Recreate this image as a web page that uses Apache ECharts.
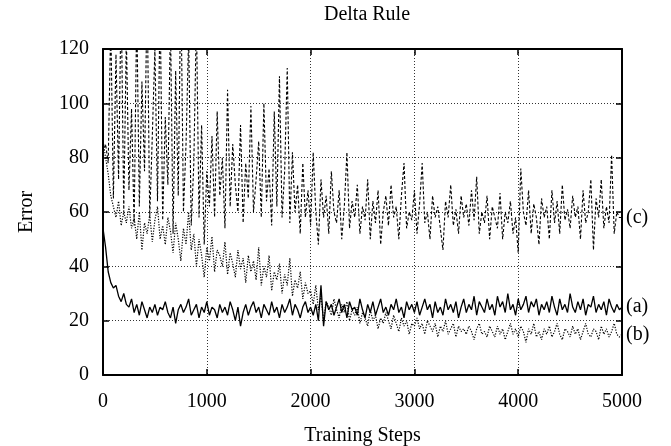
<!DOCTYPE html>
<html>
<head>
<meta charset="utf-8">
<script src="https://cdn.jsdelivr.net/npm/echarts@6/dist/echarts.min.js"></script>
<style>
  html, body { margin: 0; padding: 0; background: #fff; }
  #chart { width: 671px; height: 446px; }
</style>
</head>
<body>
<div id="chart"></div>
<script>
// sampled every 25 training steps, 0..5000
const STEP = 25;
const xTicks = [0, 1000, 2000, 3000, 4000, 5000];
const yTicks = [0, 20, 40, 60, 80, 100, 120];

// (a) solid
const errA = [
    54,47,38,34,32,33,29,27,30,26,
    25,28,23,26,22,27,24,21,25,23,
    26,22,25,24,27,23,21,25,19,24,
    26,23,25,28,22,24,26,21,25,23,
    27,22,25,24,21,26,23,25,22,27,
    24,20,25,18,23,26,22,25,27,23,
    25,21,26,24,22,27,23,25,21,26,
    23,25,28,22,26,24,21,25,27,23,
    25,22,26,20,33,18,27,24,26,22,
    25,28,23,26,21,27,24,25,22,28,
    24,21,26,23,27,22,25,28,23,25,
    22,26,24,28,23,25,21,27,24,26,
    23,27,22,25,28,24,26,21,27,23,
    25,22,28,24,26,23,27,21,25,28,
    23,26,24,29,22,27,25,23,28,24,
    26,22,29,25,27,23,30,24,26,22,
    28,24,26,29,23,27,25,28,22,26,
    24,27,23,29,25,22,28,24,26,23,
    30,25,23,27,24,28,22,26,25,29,
    23,26,24,27,22,28,25,23,26,24,
    25
];

// (b) dotted
const errB = [
    86,80,74,66,62,58,64,55,60,56,
    62,54,58,50,60,46,56,52,59,49,
    57,62,50,55,48,58,53,45,56,50,
    42,54,48,60,46,52,40,50,44,36,
    47,42,51,38,46,44,40,49,37,45,
    41,36,46,39,43,34,44,38,42,35,
    47,33,40,36,44,31,38,35,41,30,
    37,33,43,29,35,32,38,28,34,30,
    31,26,33,24,29,20,27,25,22,28,
    24,21,26,23,27,20,24,22,25,19,
    23,21,18,24,20,22,17,21,19,23,
    20,17,22,19,16,21,18,20,15,19,
    18,21,17,19,15,20,18,16,19,14,
    18,16,20,15,17,19,14,18,16,17,
    15,18,16,13,17,19,15,16,14,18,
    16,14,18,15,17,13,16,19,15,17,
    14,18,16,12,17,15,19,14,16,13,
    17,15,18,14,16,19,15,13,17,16,
    14,18,15,17,13,16,19,15,14,17,
    16,13,18,15,17,14,16,19,15,14,
    15
];

// (c) dashed
const errC = [
    82,85,78,130,65,118,72,140,60,125,
    68,98,55,135,62,108,75,142,58,88,
    120,64,138,57,95,70,130,52,112,66,
    145,60,85,125,55,78,132,58,92,48,
    75,62,88,58,97,66,80,54,105,62,
    85,70,60,92,56,78,65,99,60,72,
    86,58,100,64,76,55,97,62,110,58,
    75,113,56,82,60,70,52,78,58,68,
    55,82,60,48,72,58,66,52,75,60,
    56,68,50,62,82,54,64,58,70,52,
    62,57,72,50,64,56,68,48,60,66,
    55,70,58,62,50,66,78,54,60,57,
    68,52,63,78,56,60,50,66,58,62,
    54,46,64,58,70,55,61,52,66,58,
    63,55,68,57,73,52,60,56,66,50,
    62,58,54,67,50,60,56,64,52,58,
    45,76,60,55,68,52,63,58,48,65,
    58,62,50,68,56,64,52,70,57,61,
    54,66,58,62,50,68,56,60,72,46,
    65,58,72,54,62,56,81,52,60,58,
    58
];

const FONT = '"Liberation Serif", "Times New Roman", serif';

const toPairs = (vals) => vals.map((v, i) => [i * STEP, v]);

function makeSeries(name, vals, dash, width) {
    return {
        name: name,
        type: 'line',
        data: toPairs(vals),
        showSymbol: false,
        symbol: 'none',
        clip: true,
        lineStyle: { color: '#000', width: width, type: dash },
        endLabel: {
            show: true,
            formatter: name,
            distance: 4,
            color: '#000',
            fontFamily: FONT,
            fontSize: 20
        },
        z: 3
    };
}

const chart = echarts.init(document.getElementById('chart'));

const axisBase = {
    type: 'value',
    axisLine: { show: true, onZero: false, lineStyle: { color: '#000', width: 2 } },
    axisTick: { show: true, inside: true, length: 6, lineStyle: { color: '#000', width: 1.5 } }
};

const plain = (v) => String(v);

chart.setOption({
    animation: false,
    backgroundColor: '#fff',
    title: {
        text: 'Delta Rule',
        left: 362,
        textAlign: 'center',
        top: 0,
        textStyle: { fontFamily: FONT, fontSize: 20, fontWeight: 'normal', color: '#000' }
    },
    grid: { left: 103, right: 49, top: 49, bottom: 71, outerBoundsMode: 'none', containLabel: false },
    xAxis: [
        Object.assign({}, axisBase, {
            min: 0, max: 5000, interval: 1000,
            position: 'bottom',
            name: 'Training Steps',
            nameLocation: 'middle',
            nameGap: 51,
            nameTextStyle: { fontFamily: FONT, fontSize: 20, color: '#000' },
            axisLabel: {
                margin: 17, fontFamily: FONT, fontSize: 20, color: '#000',
                customValues: xTicks, formatter: plain
            },
            splitLine: { show: true, lineStyle: { color: '#333', type: [1, 2], width: 1 } }
        }),
        Object.assign({}, axisBase, {
            min: 0, max: 5000, interval: 1000,
            position: 'top',
            axisLabel: { show: false },
            splitLine: { show: false }
        })
    ],
    yAxis: [
        Object.assign({}, axisBase, {
            min: 0, max: 120, interval: 20,
            position: 'left',
            name: 'Error',
            nameLocation: 'middle',
            nameGap: 66,
            nameRotate: 90,
            nameTextStyle: { fontFamily: FONT, fontSize: 20, color: '#000' },
            axisLabel: {
                margin: 14, fontFamily: FONT, fontSize: 20, color: '#000',
                customValues: yTicks, formatter: plain
            },
            splitLine: { show: true, lineStyle: { color: '#333', type: [1, 2], width: 1 } }
        }),
        Object.assign({}, axisBase, {
            min: 0, max: 120, interval: 20,
            position: 'right',
            axisLabel: { show: false },
            splitLine: { show: false }
        })
    ],
    series: [
        makeSeries('(c)', errC, [3, 2], 1.1),
        makeSeries('(b)', errB, [1.2, 1.5], 1.2),
        makeSeries('(a)', errA, 'solid', 1.3)
    ]
});
</script>
</body>
</html>
